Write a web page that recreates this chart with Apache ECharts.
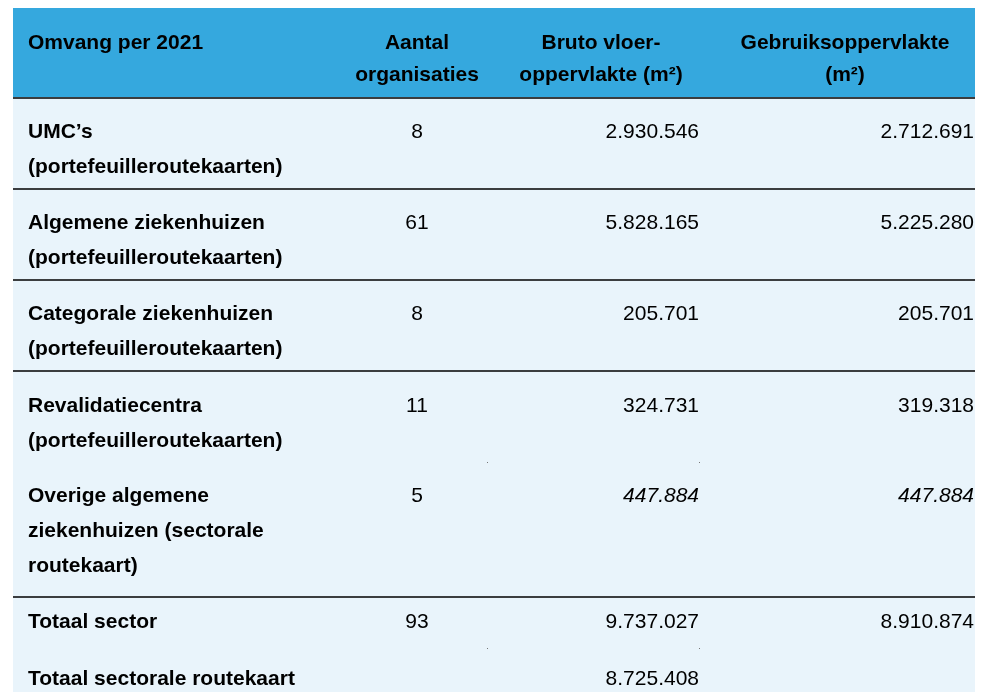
<!DOCTYPE html>
<html>
<head>
<meta charset="utf-8">
<script src="https://cdn.jsdelivr.net/npm/echarts@6/dist/echarts.min.js"></script>
<style>
  html, body { margin: 0; padding: 0; background: #fff; }
  #main { width: 987px; height: 692px; }
</style>
</head>
<body>
<div id="main"></div>
<script>
const headers = [
    ["Omvang per 2021"],
    ["Aantal", "organisaties"],
    ["Bruto vloer-", "oppervlakte (m²)"],
    ["Gebruiksoppervlakte", "(m²)"]
];

const rowLabels = [
    ["UMC’s", "(portefeuilleroutekaarten)"],
    ["Algemene ziekenhuizen", "(portefeuilleroutekaarten)"],
    ["Categorale ziekenhuizen", "(portefeuilleroutekaarten)"],
    ["Revalidatiecentra", "(portefeuilleroutekaarten)"],
    ["Overige algemene", "ziekenhuizen (sectorale", "routekaart)"],
    ["Totaal sector"],
    ["Totaal sectorale routekaart"]
];

const aantal = ["8", "61", "8", "11", "5", "93", ""];
const bruto = ["2.930.546", "5.828.165", "205.701", "324.731", "447.884", "9.737.027", "8.725.408"];
const gebruik = ["2.712.691", "5.225.280", "205.701", "319.318", "447.884", "8.910.874", ""];
const italicRow = [false, false, false, false, true, false, false];

// layout
const left = 13, right = 975;
const headTop = 8, headBottom = 97;
const firstLineY = [132, 223, 314, 406, 496, 622, 679];
const lineGap = 35;
const ruleY = [98, 189, 280, 371, 597];
const FONT = "Liberation Sans, Arial, sans-serif";

const g = [];

g.push({ type: "rect", shape: { x: left, y: headTop, width: right - left, height: headBottom - headTop },
    style: { fill: "#35A8DE" }, silent: true });
g.push({ type: "rect", shape: { x: left, y: headBottom, width: right - left, height: 692 - headBottom },
    style: { fill: "#E9F4FB" }, silent: true });

ruleY.forEach(y => {
    g.push({ type: "line", shape: { x1: left, y1: y, x2: right, y2: y },
        style: { stroke: "#000", lineWidth: 1.6 }, silent: true });
});

// stray dots
[[487, 462], [699, 462], [487, 648], [699, 648]].forEach(p => {
    g.push({ type: "rect", shape: { x: p[0], y: p[1], width: 1, height: 1 }, style: { fill: "#777" }, silent: true });
});

function txt(s, x, y, align, bold, italic) {
    g.push({
        type: "text", x: x, y: y, silent: true,
        style: {
            text: s, fill: "#000", font: (italic ? "italic " : "") + (bold ? "bold " : "") + "21px " + FONT,
            textAlign: align, textVerticalAlign: "middle"
        }
    });
}

// header
const headX = [28, 417, 601, 845];
const headAlign = ["left", "center", "center", "center"];
headers.forEach((lines, c) => {
    lines.forEach((s, i) => txt(s, headX[c], 43 + i * 32, headAlign[c], true, false));
});

// body
rowLabels.forEach((lines, r) => {
    const y0 = firstLineY[r];
    lines.forEach((s, i) => txt(s, 28, y0 + i * lineGap, "left", true, false));
    txt(aantal[r], 417, y0, "center", false, false);
    txt(bruto[r], 699, y0, "right", false, italicRow[r]);
    txt(gebruik[r], 974, y0, "right", false, italicRow[r]);
});

const chart = echarts.init(document.getElementById("main"));
chart.setOption({
    backgroundColor: "#fff",
    animation: false,
    graphic: g
});
</script>
</body>
</html>
